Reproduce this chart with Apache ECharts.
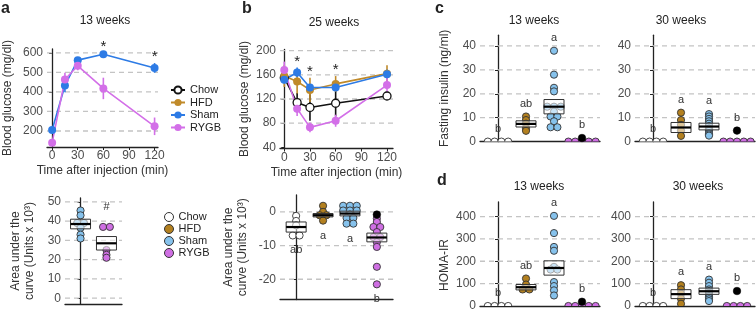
<!DOCTYPE html>
<html>
<head>
<meta charset="UTF-8">
<title>Glucose tolerance and insulin</title>
<script src="https://cdn.jsdelivr.net/npm/echarts@6/dist/echarts.min.js"></script>
<style>html,body{margin:0;padding:0;background:#fff}#chart{width:756px;height:312px}</style>
</head>
<body>
<div id="chart"></div>
<script>
var FONT = '"Liberation Sans", Arial, sans-serif';
var groups = ['Chow', 'HFD', 'Sham', 'RYGB'];
var lineColors = ['#111111', '#c08a2a', '#2d7be5', '#d36fe8'];
var dotColors = ['#ffffff', '#b3801f', '#86c2ec', '#cf6fe3'];

// a: glucose tolerance, 13 weeks
var timeA = [0, 15, 30, 60, 120];
var shamA = [205, 433, 563, 593, 523];
var shamAErr = [12, 35, 12, 6, 25];
var rygbA = [140, 464, 534, 418, 224];
var rygbAErr = [12, 34, 23, 55, 45];
var starsA = [60, 120];

// b: glucose tolerance, 25 weeks
var timeB = [0, 15, 30, 60, 120];
var chowB = [155, 114, 106, 113, 125];
var chowBErr = [6, 16, 22, 22, 5];
var hfdB = [158, 149, 135, 145, 162];
var hfdBErr = [18, 20, 20, 13, 14];
var shamB = [152, 164, 139, 139, 161];
var shamBErr = [6, 8, 5, 5, 8];
var rygbB = [168, 104, 73, 84, 143];
var rygbBErr = [14, 12, 8, 10, 12];
var starsB = [15, 30, 60];

// a bottom: area under the curve, 13 weeks
var aucAGroups = ['Sham', 'RYGB'];
var aucAVals = [[45.5, 43, 39, 39, 36.5, 33, 31], [37, 37, 25, 22.5, 21]];
var aucAMean = [38.5, 28.5];
var aucASem = [2.5, 3.5];
var aucALetters = ['', '#'];

// b bottom: area under the curve, 25 weeks
var aucBVals = [[-1.2, -2.7, -4, -7, -7], [1.8, 0, -1, -1, -2.6],
  [1.8, 1.8, 1.8, 0.4, 0.4, 0.4, -0.8, -1.8, -1.8, -3.5, -3.5],
  [-2, -3, -4.5, -4.5, -6, -7.5, -7.5, -9, -10.4, -16.3, -21.5]];
var aucBMean = [-4.5, -1, -0.5, -7.6];
var aucBSem = [1.5, 0.5, 0.7, 1.3];
var aucBBlack = [null, null, null, -0.8];
var aucBLetters = ['ab', 'a', 'a', 'b'];

// c: fasting insulin
var insC13 = [[0, 0, 0, 0], [10.5, 9, 7.5, 5.5, 4.5],
  [38, 28, 22.5, 21, 14.6, 14.6, 14.6, 12.5, 10.5, 10.5, 8.5, 6, 6], [0, 0, 0, 0, 0]];
var insC13Mean = [null, 7.4, 14.6, null];
var insC13Sem = [0, 1.3, 3, 0];
var insC13Black = [null, null, null, 1.5];
var insC13Letters = ['b', 'ab', 'a', 'b'];
var insC30 = [[0, 0, 0, 0], [12.1, 9, 7, 4.6, 2.4],
  [11.5, 10.5, 9.5, 8.5, 7.5, 6.5, 5.5, 5, 4.5, 3.5, 3, 2.5], [0, 0, 0, 0, 0]];
var insC30Mean = [null, 5.9, 6.3, null];
var insC30Sem = [0, 2.1, 1.4, 0];
var insC30Black = [null, null, null, 4.6];
var insC30Letters = ['b', 'a', 'a', 'b'];

// d: HOMA-IR
var homaD13 = [[0, 0, 0, 0], [123, 96, 81, 74, 74],
  [403, 326, 264, 247, 175, 163, 163, 107, 89, 70, 47], [0, 0, 0, 0, 0]];
var homaD13Mean = [null, 84, 170, null];
var homaD13Sem = [0, 12, 32, 0];
var homaD13Black = [null, null, null, 19];
var homaD13Letters = ['b', 'ab', 'a', 'b'];
var homaD30 = [[0, 0, 0, 0], [93, 74, 55, 33, 10],
  [118, 104, 89, 74, 67, 59, 52, 44, 37, 30, 22], [0, 0, 0, 0]];
var homaD30Mean = [null, 53, 66, null];
var homaD30Sem = [0, 20, 14, 0];
var homaD30Black = [null, null, null, 67];
var homaD30Letters = ['b', 'a', 'a', 'b'];

var DOT_R = 3.6, DOT_STEP = 6.8, BOX_HALF = 10;

var grids = [
  {left: 45, top: 49, width: 113, height: 98},
  {left: 280, top: 49.5, width: 113, height: 99},
  {left: 65, top: 198, width: 57, height: 106},
  {left: 280, top: 195, width: 113, height: 104.5},
  {left: 480, top: 35.2, width: 120, height: 106.4},
  {left: 635, top: 35.2, width: 120, height: 106.4},
  {left: 480, top: 202, width: 120, height: 104.7},
  {left: 635, top: 202, width: 120, height: 104.7}
];

function yAx(gi, min, max, ticks, name, gap, extra) {
  var ax = {
    type: 'value', gridIndex: gi, min: min, max: max,
    name: name || '', nameLocation: 'middle', nameGap: gap || 30,
    nameTextStyle: {color: '#333', fontSize: 12, fontFamily: FONT, lineHeight: 14},
    axisLine: {show: true, lineStyle: {color: '#222', width: 1.3}},
    axisTick: {show: true, length: 3, customValues: ticks, lineStyle: {color: '#222', width: 1}},
    axisLabel: {customValues: ticks, color: '#4d4d4d', fontSize: 12, margin: 4, fontFamily: FONT},
    splitLine: {show: false}
  };
  if (extra) Object.assign(ax.nameTextStyle, extra);
  return ax;
}
function xTime(gi, min, max) {
  var t = [0, 30, 60, 90, 120];
  return {
    type: 'value', gridIndex: gi, min: min, max: max,
    name: 'Time after injection (min)', nameLocation: 'middle', nameGap: 18,
    nameTextStyle: {color: '#333', fontSize: 12, fontFamily: FONT},
    axisLine: {show: true, onZero: false, lineStyle: {color: '#222', width: 1.3}},
    axisTick: {show: true, length: 3, customValues: t, lineStyle: {color: '#222'}},
    axisLabel: {customValues: t, color: '#4d4d4d', fontSize: 12, margin: 3, fontFamily: FONT},
    splitLine: {show: false}
  };
}
function xCat(gi, min, max) {
  return {
    type: 'value', gridIndex: gi, min: min, max: max,
    axisLine: {show: true, onZero: false, lineStyle: {color: '#222', width: 1.3}},
    axisTick: {show: false}, axisLabel: {show: false}, splitLine: {show: false}
  };
}

function gridLines(gi, values) {
  return {
    type: 'custom', xAxisIndex: gi, yAxisIndex: gi, z: 1, silent: true,
    data: values.map(function (v) { return [0, v]; }), encode: {x: 0, y: 1},
    renderItem: function (p, api) {
      var y = api.coord([api.value(0), api.value(1)])[1];
      var cs = p.coordSys;
      return {type: 'line', shape: {x1: cs.x, y1: y, x2: cs.x + cs.width, y2: y},
        style: {stroke: '#c4c4c4', lineWidth: 1.3, lineDash: [5, 4]}};
    }
  };
}

function linePanel(gi, time, names, means, errs, stars) {
  var out = [];
  names.forEach(function (g, k) {
    var ci = groups.indexOf(g);
    out.push({
      name: g, type: 'line', xAxisIndex: gi, yAxisIndex: gi, z: 4,
      data: time.map(function (t, i) { return [t, means[k][i]]; }),
      symbol: 'circle', symbolSize: 8,
      itemStyle: {color: ci === 0 ? '#ffffff' : lineColors[ci], borderColor: lineColors[ci], borderWidth: ci === 0 ? 1.3 : 0},
      lineStyle: {color: lineColors[ci], width: 1.6},
      emphasis: {disabled: true}
    });
    out.push({
      type: 'custom', xAxisIndex: gi, yAxisIndex: gi, z: 3, silent: true,
      data: time.map(function (t, i) { return [t, means[k][i] - errs[k][i], means[k][i] + errs[k][i]]; }),
      encode: {x: 0, y: [1, 2]},
      renderItem: function (p, api) {
        var lo = api.coord([api.value(0), api.value(1)]);
        var hi = api.coord([api.value(0), api.value(2)]);
        return {type: 'line', shape: {x1: lo[0], y1: lo[1], x2: hi[0], y2: hi[1]},
          style: {stroke: lineColors[ci], lineWidth: 1.6}};
      }
    });
  });
  var starData = stars.map(function (t) {
    var i = time.indexOf(t);
    var top = Math.max.apply(null, means.map(function (m, k) { return m[i] + errs[k][i]; }));
    return [t, top];
  });
  out.push({
    type: 'custom', xAxisIndex: gi, yAxisIndex: gi, z: 5, silent: true,
    data: starData, encode: {x: 0, y: 1},
    renderItem: function (p, api) {
      var c = api.coord([api.value(0), api.value(1)]);
      return {type: 'text', x: c[0], y: c[1] - 6,
        style: {text: '*', fill: '#222', font: '15px ' + FONT, align: 'center', verticalAlign: 'middle'}};
    }
  });
  return out;
}

function dotPanel(gi, names, vals, mean, sem, black, letters, below, gap) {
  var dots = [], boxes = [], blacks = [], marks = [], markText = [];
  names.forEach(function (g, k) {
    var ci = groups.indexOf(g);
    var count = {}, used = {};
    vals[k].forEach(function (v) { count[v] = (count[v] || 0) + 1; });
    vals[k].forEach(function (v) {
      var j = used[v] || 0; used[v] = j + 1;
      dots.push([k, v, (j - (count[v] - 1) / 2) * DOT_STEP, ci]);
    });
    if (mean[k] != null) boxes.push([k, mean[k], sem[k]]);
    var all = vals[k].slice();
    if (black[k] != null) { blacks.push([k, black[k]]); all.push(black[k]); }
    if (letters[k]) {
      marks.push([k, below ? Math.min.apply(null, all) : Math.max.apply(null, all)]);
      markText.push(letters[k]);
    }
  });
  var sgn = below ? 1 : -1;
  return [
    {type: 'custom', xAxisIndex: gi, yAxisIndex: gi, z: 2, clip: true, silent: true,
      data: dots, encode: {x: 0, y: 1},
      renderItem: function (p, api) {
        var c = api.coord([api.value(0), api.value(1)]);
        return {type: 'circle', shape: {cx: c[0] + api.value(2), cy: c[1], r: DOT_R},
          style: {fill: dotColors[api.value(3)], stroke: '#333', lineWidth: 0.9}};
      }},
    {type: 'custom', xAxisIndex: gi, yAxisIndex: gi, z: 3, silent: true,
      data: boxes, encode: {x: 0, y: 1},
      renderItem: function (p, api) {
        var x = api.value(0), m = api.value(1), s = api.value(2);
        var hi = api.coord([x, m + s]), lo = api.coord([x, m - s]), mid = api.coord([x, m]);
        return {type: 'group', children: [
          {type: 'rect', shape: {x: mid[0] - BOX_HALF, y: hi[1], width: 2 * BOX_HALF, height: lo[1] - hi[1]},
            style: {fill: 'rgba(255,255,255,0.55)', stroke: '#333', lineWidth: 1}},
          {type: 'line', shape: {x1: mid[0] - BOX_HALF, y1: mid[1], x2: mid[0] + BOX_HALF, y2: mid[1]},
            style: {stroke: '#000', lineWidth: 2.2}}
        ]};
      }},
    {type: 'custom', xAxisIndex: gi, yAxisIndex: gi, z: 4, silent: true,
      data: blacks, encode: {x: 0, y: 1},
      renderItem: function (p, api) {
        var c = api.coord([api.value(0), api.value(1)]);
        return {type: 'circle', shape: {cx: c[0], cy: c[1], r: DOT_R + 0.2},
          style: {fill: '#000', stroke: '#000', lineWidth: 0.5}};
      }},
    {type: 'custom', xAxisIndex: gi, yAxisIndex: gi, z: 5, silent: true,
      data: marks, encode: {x: 0, y: 1},
      renderItem: function (p, api) {
        var c = api.coord([api.value(0), api.value(1)]);
        return {type: 'text', x: c[0], y: c[1] + sgn * gap,
          style: {text: markText[p.dataIndex], fill: '#333', font: '11px ' + FONT, align: 'center', verticalAlign: 'middle'}};
      }}
  ];
}

var series = [].concat(
  gridLines(0, [200, 300, 400, 500, 600]),
  gridLines(1, [80, 120, 160, 200]),
  gridLines(2, [0, 10, 20, 30, 40, 50]),
  gridLines(3, [-20, -10, 0]),
  gridLines(4, [10, 20, 30, 40]),
  gridLines(5, [10, 20, 30, 40]),
  gridLines(6, [100, 200, 300, 400]),
  gridLines(7, [100, 200, 300, 400]),
  linePanel(0, timeA, ['Sham', 'RYGB'], [shamA, rygbA], [shamAErr, rygbAErr], starsA),
  linePanel(1, timeB, groups, [chowB, hfdB, shamB, rygbB], [chowBErr, hfdBErr, shamBErr, rygbBErr], starsB),
  dotPanel(2, aucAGroups, aucAVals, aucAMean, aucASem, [null, null], aucALetters, false, 20),
  dotPanel(3, groups, aucBVals, aucBMean, aucBSem, aucBBlack, aucBLetters, true, 15),
  dotPanel(4, groups, insC13, insC13Mean, insC13Sem, insC13Black, insC13Letters, false, 13),
  dotPanel(5, groups, insC30, insC30Mean, insC30Sem, insC30Black, insC30Letters, false, 13),
  dotPanel(6, groups, homaD13, homaD13Mean, homaD13Sem, homaD13Black, homaD13Letters, false, 13),
  dotPanel(7, groups, homaD30, homaD30Mean, homaD30Sem, homaD30Black, homaD30Letters, false, 13)
);

function txt(x, y, s, font, align) {
  return {type: 'text', x: x, y: y, silent: true,
    style: {text: s, font: font, fill: '#222', align: align || 'center', verticalAlign: 'middle'}};
}

var option = {
  animation: false,
  backgroundColor: '#ffffff',
  grid: grids,
  xAxis: [xTime(0, -6, 124), xTime(1, -5, 127), xCat(2, -0.6, 1.6), xCat(3, -0.6, 3.6),
    xCat(4, -0.643, 3.643), xCat(5, -0.643, 3.643), xCat(6, -0.643, 3.643), xCat(7, -0.643, 3.643)],
  yAxis: [
    yAx(0, 118, 620, [200, 300, 400, 500, 600], 'Blood glucose (mg/dl)', 32),
    yAx(1, 38, 202, [40, 80, 120, 160, 200], 'Blood glucose (mg/dl)', 27),
    yAx(2, -3, 52, [0, 10, 20, 30, 40, 50], 'Area under the\ncurve (Units x 10\u00b3)', 28),
    yAx(3, -26, 5, [-20, -10, 0], 'Area under the\ncurve (Units x 10\u00b3)', 30),
    yAx(4, 0, 44.5, [0, 10, 20, 30, 40], 'Fasting insulin (ng/ml)', 28),
    yAx(5, 0, 44.5, [0, 10, 20, 30, 40]),
    yAx(6, 0, 465, [0, 100, 200, 300, 400], 'HOMA-IR', 28, {padding: [0, 22, 0, 0]}),
    yAx(7, 0, 465, [0, 100, 200, 300, 400])
  ],
  legend: [
    {data: groups, orient: 'vertical', left: 165, top: 79, itemWidth: 14, itemHeight: 9, itemGap: 0.5,
      selectedMode: false, textStyle: {fontSize: 11, color: '#222', lineHeight: 12, fontFamily: FONT}},
    {data: groups.map(function (g, i) {
        return {name: g, icon: 'circle', itemStyle: {color: dotColors[i], borderColor: '#333', borderWidth: 1}};
      }),
      orient: 'vertical', left: 159, top: 206, itemWidth: 9, itemHeight: 9, itemGap: 0,
      selectedMode: false, textStyle: {fontSize: 11, color: '#222', lineHeight: 12, fontFamily: FONT}}
  ],
  graphic: [
    txt(1, 9, 'a', 'bold 16px ' + FONT, 'left'),
    txt(242, 9, 'b', 'bold 16px ' + FONT, 'left'),
    txt(435, 9, 'c', 'bold 16px ' + FONT, 'left'),
    txt(437, 181, 'd', 'bold 16px ' + FONT, 'left'),
    txt(105, 21, '13 weeks', '12px ' + FONT),
    txt(334, 23, '25 weeks', '12px ' + FONT),
    txt(534, 21, '13 weeks', '12px ' + FONT),
    txt(681, 21, '30 weeks', '12px ' + FONT),
    txt(539, 187, '13 weeks', '12px ' + FONT),
    txt(698, 187, '30 weeks', '12px ' + FONT)
  ],
  series: series
};

var chart = echarts.init(document.getElementById('chart'), null, {renderer: 'canvas'});
chart.setOption(option);
</script>
</body>
</html>
